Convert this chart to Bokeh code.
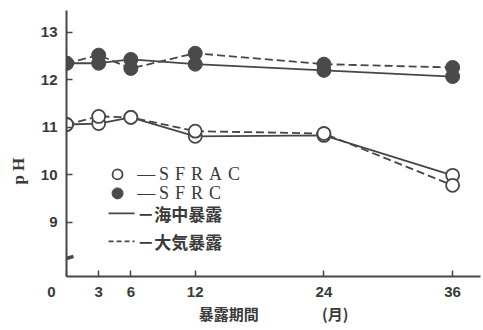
from bokeh.plotting import figure
from bokeh.models import FixedTicker, Label, Range1d
from bokeh.embed import file_html
from bokeh.resources import INLINE

# ---- data ----
months = [0, 3, 6, 12, 24, 36]
sfrac_sea = [11.06, 11.08, 11.21, 10.81, 10.83, 9.99]
sfrac_air = [11.06, 11.23, 11.21, 10.92, 10.87, 9.78]
sfrc_sea = [12.35, 12.35, 12.43, 12.33, 12.20, 12.07]
sfrc_air = [12.35, 12.52, 12.24, 12.56, 12.33, 12.26]
x_ticks = [0, 3, 6, 12, 24, 36]
x_tick_labels = {0: "0\u2003\u2003", 3: "3", 6: "6", 12: "12", 24: "24", 36: "36"}
y_ticks = [9, 10, 11, 12, 13]
y_origin = 7.86          # bottom of the broken pH axis
y_break = 8.25
legend_names = ["—\u2009S\u2004F\u2004R\u2004A\u2004C", "—\u2009S\u2004F\u2004R\u2004C", "－海中暴露", "－大気暴露"]
x_title = "暴露期間\u3000\u3000\u3000\u3000 (月)"
y_title = "p H" + "\u2003" * 3 + "\u00a0"

INK = "#474747"
TXT = "#3a3a3a"

p = figure(width=483, height=330, output_backend="svg", toolbar_location=None,
           x_range=Range1d(0, 38.6), y_range=Range1d(y_origin, 13.46),
           min_border_left=66, min_border_right=3, min_border_top=10, min_border_bottom=54)
p.outline_line_color = None
p.grid.visible = False
p.background_fill_color = "white"
p.border_fill_color = "white"

for ax in (p.xaxis, p.yaxis):
    ax.axis_line_color = INK
    ax.axis_line_width = 2
    ax.major_tick_line_color = INK
    ax.major_tick_line_width = 1.5
    ax.major_tick_in = 6
    ax.major_tick_out = 0
    ax.minor_tick_line_color = None
    ax.major_label_text_font = "Liberation Sans"
    ax.major_label_text_font_style = "bold"
    ax.major_label_text_font_size = "15px"
    ax.major_label_text_color = TXT

p.xaxis.ticker = FixedTicker(ticks=x_ticks)
p.xaxis.major_label_overrides = x_tick_labels
p.yaxis.ticker = FixedTicker(ticks=y_ticks)
p.xaxis.major_label_standoff = 6
p.yaxis.major_label_standoff = 9

p.xaxis.axis_label = x_title
p.xaxis.axis_label_text_font = "Noto Sans CJK JP"
p.xaxis.axis_label_text_font_style = "bold"
p.xaxis.axis_label_text_font_size = "15px"
p.xaxis.axis_label_text_color = TXT
p.xaxis.axis_label_standoff = 0

p.yaxis.axis_label = y_title
p.yaxis.axis_label_text_font = "Liberation Serif"
p.yaxis.axis_label_text_font_style = "bold"
p.yaxis.axis_label_text_font_size = "17px"
p.yaxis.axis_label_text_color = TXT
p.yaxis.axis_label_standoff = 10

# ---- lines ----
for ys in (sfrc_sea, sfrac_sea):
    p.line(months, ys, line_color=INK, line_width=1.8)
for ys in (sfrc_air, sfrac_air):
    p.line(months, ys, line_color=INK, line_width=1.8, line_dash="8 4")

# ---- markers ----
for ys in (sfrc_sea, sfrc_air):
    p.scatter(months, ys, marker="circle", size=14, fill_color="#4a4a4a", line_color="#4a4a4a")
for ys in (sfrac_sea, sfrac_air):
    p.scatter(months, ys, marker="circle", size=13, fill_color="white", line_color=INK, line_width=1.8)

# ---- axis break mark ----
p.segment(x0=[-0.37], y0=[y_break - 0.035], x1=[0.65], y1=[y_break + 0.035],
          line_color=INK, line_width=3.5)

# ---- legend drawn by hand ----
lx0, lx1, lxm, ltxt = 3.92, 6.35, 4.76, 6.6
ly = [10.01, 9.61, 9.19, 8.60]
p.scatter([lxm], [ly[0]], marker="circle", size=10, fill_color="white", line_color=INK, line_width=1.8)
p.scatter([lxm], [ly[1]], marker="circle", size=11, fill_color="#4a4a4a", line_color="#4a4a4a")
p.line([lx0, lx1], [ly[2], ly[2]], line_color=INK, line_width=1.8)
p.line([lx0, lx1], [ly[3], ly[3]], line_color=INK, line_width=1.8, line_dash="5 3")
for i, name in enumerate(legend_names):
    jp = i >= 2
    p.add_layout(Label(x=ltxt, y=ly[i], text=name, text_align="left", text_baseline="middle",
                       text_font="Noto Sans CJK JP" if jp else "Liberation Serif",
                       text_font_style="bold" if jp else "normal",
                       text_font_size="17px" if jp else "18px", text_color=TXT))

open("out.html", "w").write(file_html(p, INLINE))
